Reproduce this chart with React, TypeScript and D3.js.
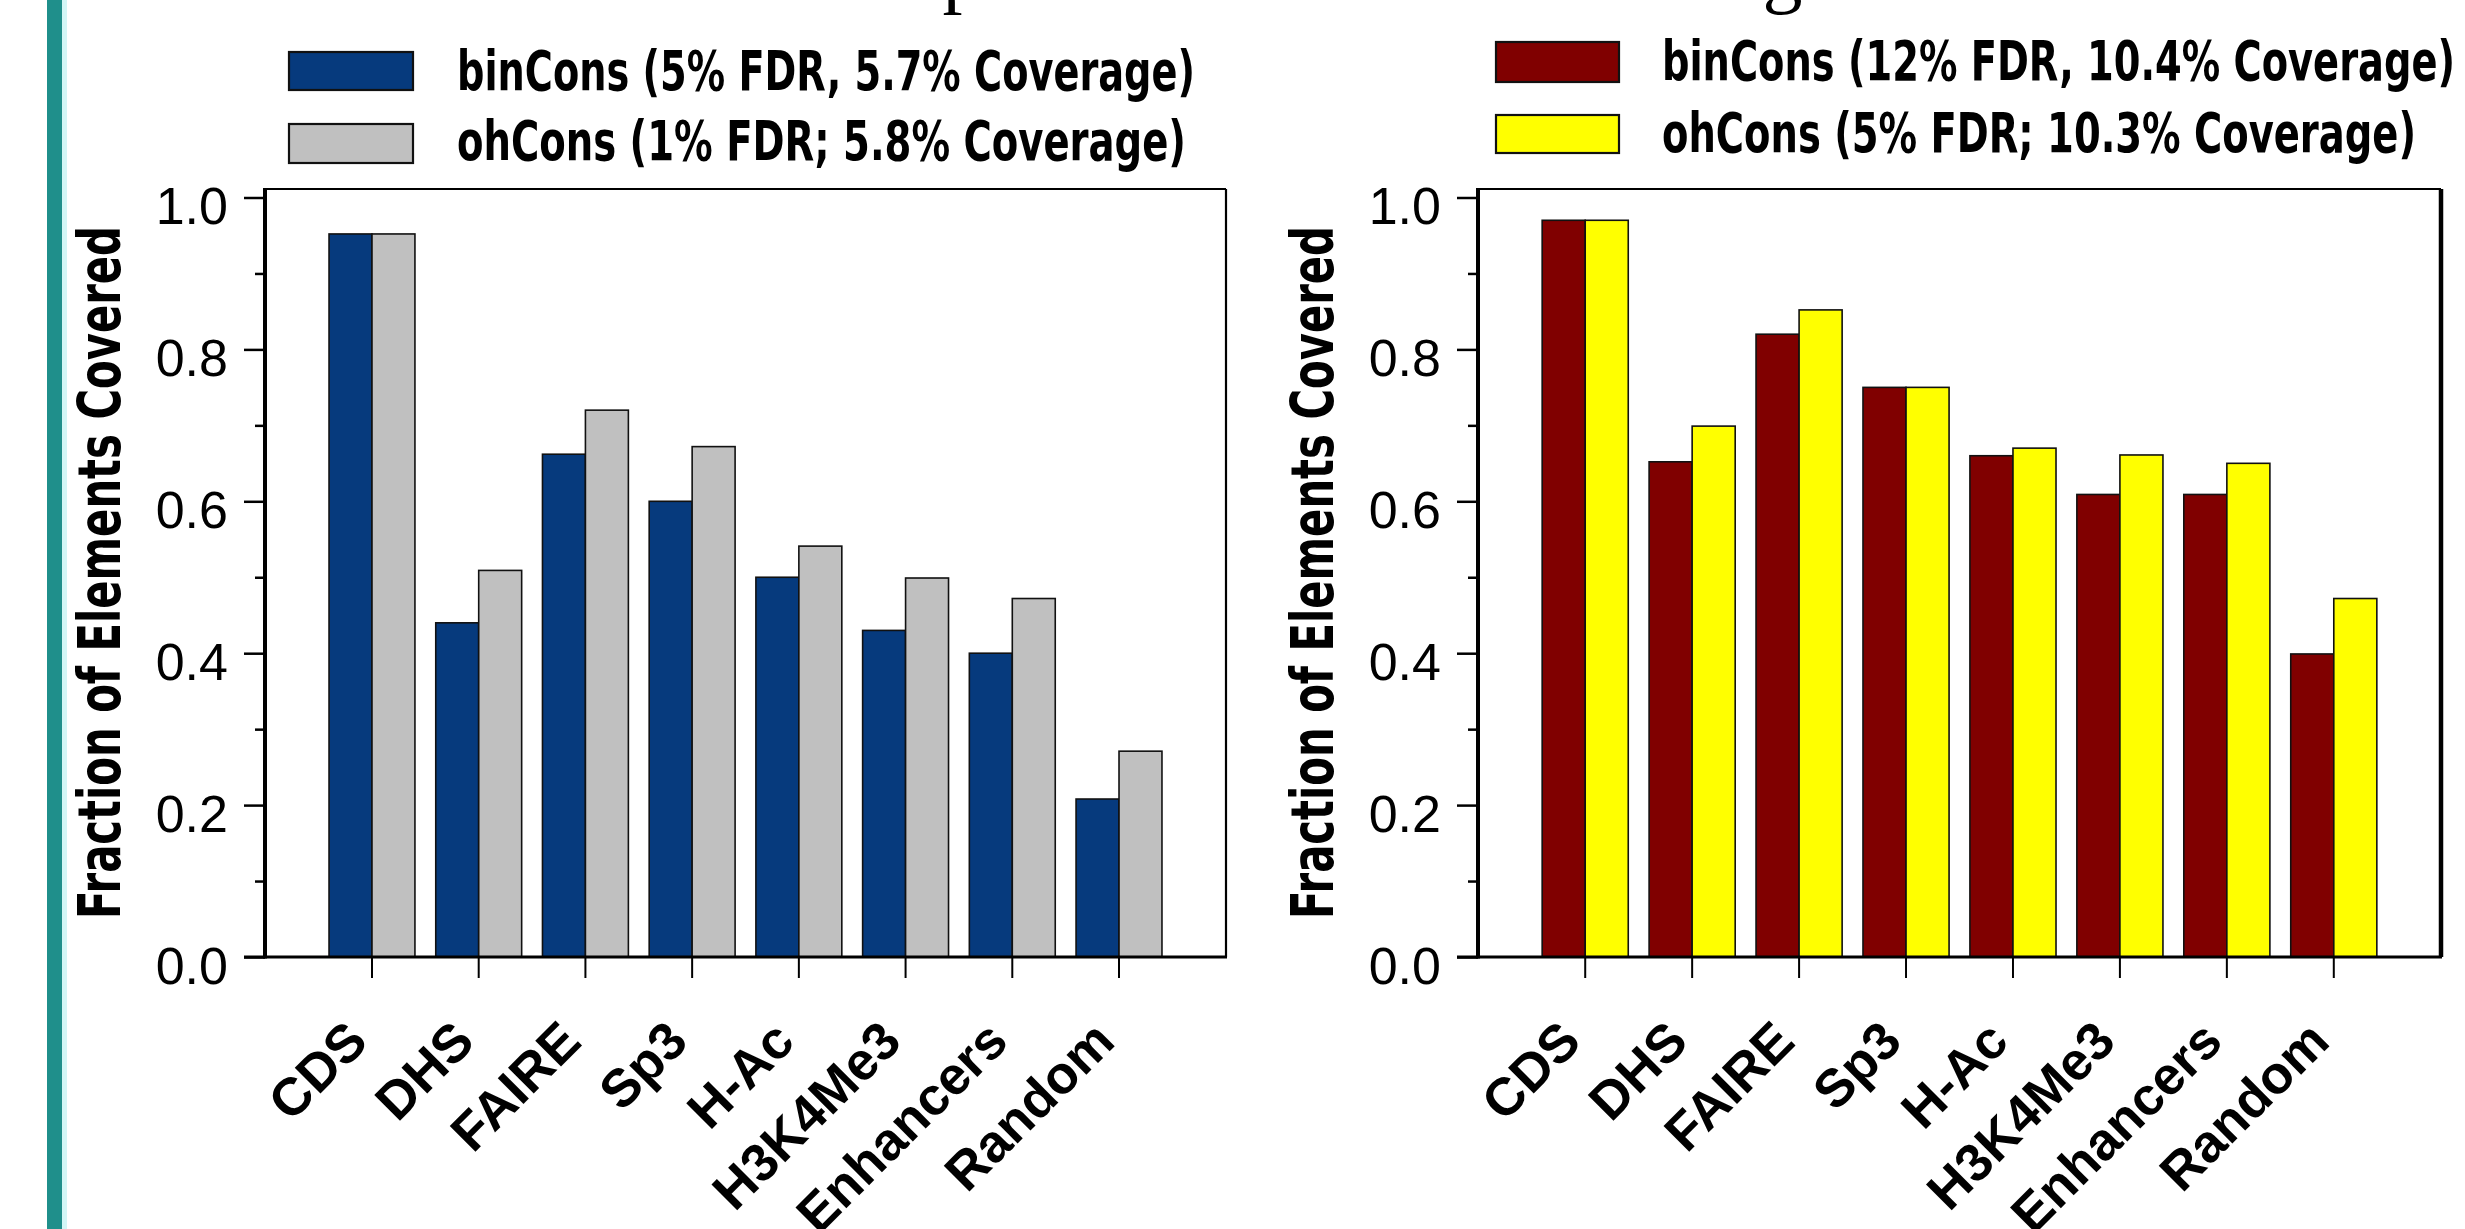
import React, { useEffect, useRef } from 'react';
import * as d3 from 'd3';

// categories and series values
const categories = ['CDS', 'DHS', 'FAIRE', 'Sp3', 'H-Ac', 'H3K4Me3', 'Enhancers', 'Random'];
const seriesKeys = ['binCons', 'ohCons'];

const leftBinCons = [0.952, 0.44, 0.662, 0.6, 0.5, 0.43, 0.4, 0.208];
const leftOhCons = [0.952, 0.509, 0.72, 0.672, 0.541, 0.499, 0.472, 0.271];
const rightBinCons = [0.97, 0.652, 0.82, 0.75, 0.66, 0.609, 0.609, 0.399];
const rightOhCons = [0.97, 0.699, 0.852, 0.75, 0.67, 0.661, 0.65, 0.472];

const leftLegend = ['binCons (5% FDR, 5.7% Coverage)', 'ohCons (1% FDR; 5.8% Coverage)'];
const rightLegend = ['binCons (12% FDR, 10.4% Coverage)', 'ohCons (5% FDR; 10.3% Coverage)'];

const yMajorTicks = [0, 0.2, 0.4, 0.6, 0.8, 1.0];
const yMinorTicks = [0.1, 0.3, 0.5, 0.7, 0.9];
const yTitle = 'Fraction of Elements Covered';
const pageTitle = 'Comparison at Similar Coverage';

const W = 2465;
const H = 1229;
const SANS = '"Liberation Sans", Arial, Helvetica, sans-serif';
const NARROW = '"Liberation Sans Narrow", "DejaVu Sans Condensed", "Liberation Sans", Arial, sans-serif';

function drawPanel(svg, cfg) {
  const { left, right, top, bottom, values, colors, legend, rightEdgeWidth } = cfg;

  const x = d3.scaleBand().domain(categories).range([left, right])
    .paddingInner(0.195).paddingOuter(0.6);
  const xs = d3.scaleBand().domain(seriesKeys).range([0, x.bandwidth()]);
  const y = d3.scaleLinear().domain([0, 1]).range([bottom, 197.5]);

  const g = svg.append('g');

  // bars
  const rows = categories.map((c, i) => ({ c, vals: seriesKeys.map((k, j) => ({ k, v: values[j][i] })) }));
  g.selectAll('g.grp')
    .data(rows)
    .join('g')
    .attr('class', 'grp')
    .attr('transform', d => `translate(${x(d.c)},0)`)
    .selectAll('rect')
    .data(d => d.vals)
    .join('rect')
    .attr('x', d => xs(d.k))
    .attr('y', d => y(d.v))
    .attr('width', xs.bandwidth())
    .attr('height', d => y(0) - y(d.v))
    .attr('fill', (d, j) => colors[j])
    .attr('stroke', '#111')
    .attr('stroke-width', 1.6);

  // frame
  g.append('line').attr('x1', left).attr('x2', right).attr('y1', top).attr('y2', top)
    .attr('stroke', '#000').attr('stroke-width', 2.2);
  g.append('line').attr('x1', right).attr('x2', right).attr('y1', top).attr('y2', bottom)
    .attr('stroke', '#000').attr('stroke-width', rightEdgeWidth);
  g.append('line').attr('x1', left - 21).attr('x2', right + 1).attr('y1', bottom).attr('y2', bottom)
    .attr('stroke', '#000').attr('stroke-width', 3);
  g.append('line').attr('x1', left).attr('x2', left).attr('y1', top - 1).attr('y2', bottom + 1.5)
    .attr('stroke', '#000').attr('stroke-width', 4);

  // y axis ticks
  const yAxis = g.append('g').attr('transform', `translate(${left},0)`)
    .call(d3.axisLeft(y).tickValues(yMajorTicks).tickSize(21).tickPadding(16).tickFormat(d3.format('.1f')));
  yAxis.select('.domain').remove();
  yAxis.selectAll('line').attr('stroke', '#000').attr('stroke-width', 2.5);
  yAxis.selectAll('text')
    .attr('font-family', SANS)
    .attr('font-size', 52)
    .attr('fill', '#000')
    .attr('dy', '0.5em');

  const yMinor = g.append('g').attr('transform', `translate(${left},0)`)
    .call(d3.axisLeft(y).tickValues(yMinorTicks).tickSize(10).tickFormat(() => ''));
  yMinor.select('.domain').remove();
  yMinor.selectAll('line').attr('stroke', '#000').attr('stroke-width', 2.5);

  // x axis ticks at group centres
  const xAxis = g.append('g').attr('transform', `translate(0,${bottom})`)
    .call(d3.axisBottom(x).tickSize(21).tickFormat(() => ''));
  xAxis.select('.domain').remove();
  xAxis.selectAll('line').attr('stroke', '#000').attr('stroke-width', 2);

  // rotated category labels
  g.selectAll('text.xlab')
    .data(categories)
    .join('text')
    .attr('class', 'xlab')
    .attr('transform', d => `translate(${x(d) + x.bandwidth() / 2 - 2},${bottom + 87}) rotate(-45)`)
    .attr('text-anchor', 'end')
    .attr('font-family', SANS)
    .attr('font-weight', 'bold')
    .attr('font-size', 53)
    .text(d => d);

  // y title
  g.append('text')
    .attr('transform', `translate(${cfg.yTitleX},${(226 + 919) / 2}) rotate(-90)`)
    .attr('text-anchor', 'middle')
    .attr('font-family', NARROW)
    .attr('font-weight', 'bold')
    .attr('font-size', 58)
    .attr('textLength', 693)
    .attr('lengthAdjust', 'spacingAndGlyphs')
    .text(yTitle);

  // legend
  legend.rows.forEach((r, j) => {
    g.append('rect')
      .attr('x', legend.swatchX).attr('y', r.top)
      .attr('width', legend.swatchW).attr('height', r.h)
      .attr('fill', colors[j]).attr('stroke', '#111').attr('stroke-width', 2.2);
    g.append('text')
      .attr('x', legend.textX).attr('y', r.base)
      .attr('font-family', NARROW)
      .attr('font-weight', 'bold')
      .attr('font-size', 56)
      .attr('textLength', r.len)
      .attr('lengthAdjust', 'spacingAndGlyphs')
      .text(legend.labels[j]);
  });
}

function App() {
  const ref = useRef(null);

  useEffect(() => {
    if (!ref.current) return;
    const svg = d3.select(ref.current);
    svg.selectAll('*').remove();

    svg.append('rect').attr('width', W).attr('height', H).attr('fill', '#fff');

    // teal slide edge
    svg.append('rect').attr('x', 62).attr('y', 0).attr('width', 5).attr('height', H).attr('fill', '#d2f6f6');
    svg.append('rect').attr('x', 47).attr('y', 0).attr('width', 15).attr('height', H).attr('fill', '#1f8f8b');

    // slide title, cut off at the top edge
    svg.append('text')
      .attr('x', 787).attr('y', -2)
      .attr('font-family', '"Liberation Serif", "Times New Roman", serif')
      .attr('font-size', 80)
      .text(pageTitle);

    drawPanel(svg, {
      left: 265, right: 1226, top: 189, bottom: 957,
      values: [leftBinCons, leftOhCons],
      colors: ['#063a7d', '#c0c0c0'],
      rightEdgeWidth: 2.2,
      yTitleX: 120,
      legend: {
        labels: leftLegend,
        swatchX: 289, swatchW: 124, textX: 457,
        rows: [
          { top: 52, h: 38, base: 90, len: 738 },
          { top: 124, h: 39, base: 160, len: 729 },
        ],
      },
    });

    drawPanel(svg, {
      left: 1478, right: 2441, top: 189, bottom: 957,
      values: [rightBinCons, rightOhCons],
      colors: ['#800000', '#ffff00'],
      rightEdgeWidth: 4.5,
      yTitleX: 1333,
      legend: {
        labels: rightLegend,
        swatchX: 1496, swatchW: 123, textX: 1662,
        rows: [
          { top: 42, h: 40, base: 80, len: 793 },
          { top: 115, h: 38, base: 152, len: 754 },
        ],
      },
    });
  }, []);

  return (
    <svg
      ref={ref}
      width={W}
      height={H}
      style={{ position: 'absolute', left: 0, top: 0, display: 'block' }}
    />
  );
}

export default App;
